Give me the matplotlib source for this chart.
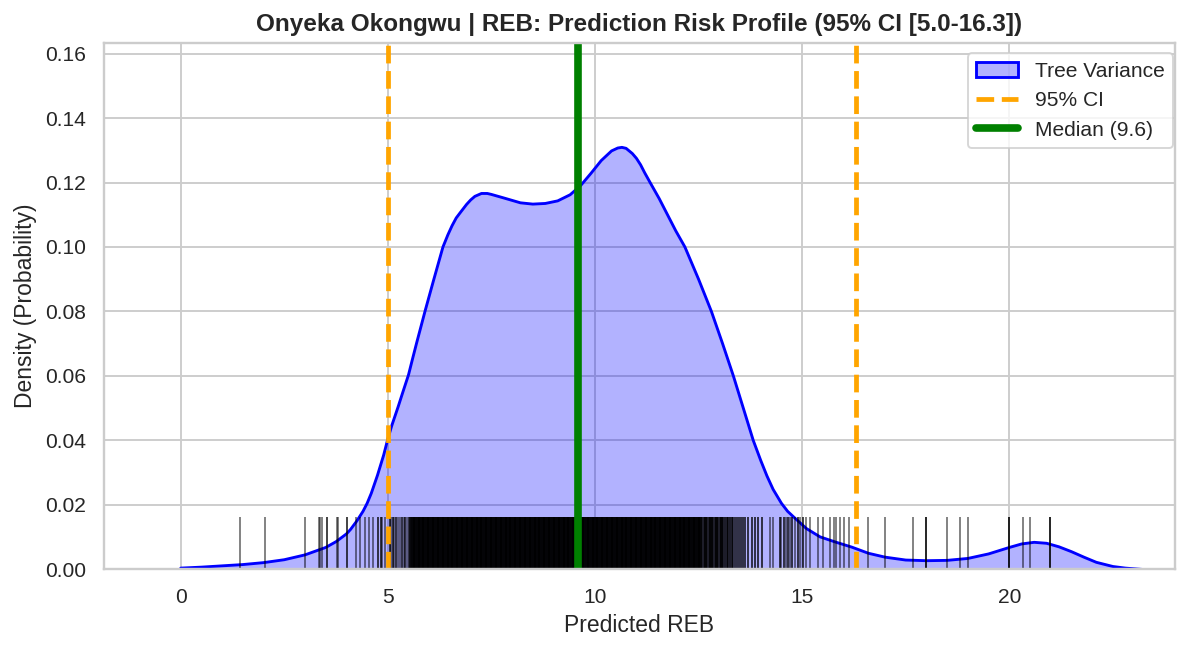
import matplotlib
matplotlib.use("Agg")
import matplotlib.pyplot as plt
from matplotlib.patches import Patch
from matplotlib.lines import Line2D
import seaborn as sns

# KDE curve of the tree predictions
kde_x = [0.0, 0.5, 1.0, 1.5, 2.0, 2.5, 3.0, 3.5, 3.75, 4.0, 4.1, 4.25, 4.4, 4.5,
         4.6, 4.75, 4.9, 5.0, 5.1, 5.25, 5.35, 5.5, 5.6, 5.7, 5.9, 6.1, 6.33,
         6.45, 6.55, 6.65, 6.75, 6.9, 7.0, 7.1, 7.26, 7.4, 7.5, 7.8, 8.2, 8.5,
         8.8, 9.1, 9.4, 9.65, 9.9, 10.15, 10.4, 10.55, 10.65, 10.75, 10.9, 11.0,
         11.1, 11.2, 11.33, 11.55, 11.75, 11.95, 12.17, 12.5, 12.81, 13.08, 13.34,
         13.58, 13.82, 14.0, 14.15, 14.3, 14.5, 14.65, 14.8, 15.1, 15.43, 15.8,
         16.2, 16.6, 17.0, 17.5, 18.0, 18.5, 19.0, 19.5, 20.0, 20.3, 20.6, 20.9,
         21.2, 21.5, 21.8, 22.1, 22.5, 22.8, 23.2]
kde_y = [0.0004, 0.0007, 0.0011, 0.0015, 0.0021, 0.0030, 0.0045, 0.0068, 0.0086,
         0.0110, 0.0124, 0.0150, 0.0180, 0.0205, 0.0236, 0.0292, 0.0355, 0.0405,
         0.0448, 0.0505, 0.0545, 0.0604, 0.0655, 0.0705, 0.0802, 0.0895, 0.1000,
         0.1038, 0.1066, 0.1090, 0.1107, 0.1132, 0.1146, 0.1157, 0.1166, 0.1166,
         0.1163, 0.1152, 0.1137, 0.1133, 0.1135, 0.1143, 0.1162, 0.1190, 0.1228,
         0.1268, 0.1298, 0.1307, 0.1309, 0.1306, 0.1290, 0.1275, 0.1255, 0.1230,
         0.1200, 0.1150, 0.1100, 0.1050, 0.1000, 0.0900, 0.0800, 0.0700, 0.0600,
         0.0500, 0.0400, 0.0338, 0.0290, 0.0248, 0.0205, 0.0180, 0.0162, 0.0127,
         0.0101, 0.0085, 0.0069, 0.0050, 0.0038, 0.0029, 0.0027, 0.0028, 0.0034,
         0.0048, 0.0068, 0.0079, 0.0084, 0.0081, 0.0070, 0.0055, 0.0038, 0.0022,
         0.0009, 0.0004, 0.0]

# rug of individual tree predictions, grouped by how many trees share a value
rug_single = [1.43, 2.03, 3.01, 3.33, 3.37, 3.40, 3.77, 3.79, 4.24, 4.34, 4.46,
              4.54, 4.64, 4.87, 4.94, 5.08, 5.16, 5.24, 5.30, 5.38, 5.46, 14.23,
              14.29, 14.50, 14.60, 14.70, 14.82, 14.95, 15.10, 15.20, 15.39, 15.50,
              15.66, 15.76, 15.82, 15.92, 16.01, 16.12, 16.60, 17.00, 17.67, 18.49,
              18.82, 19.00, 20.33, 20.49]
rug_double = [3.52, 4.01, 4.76, 4.84, 5.05, 5.12, 5.20, 5.34, 5.42, 5.50, 5.53,
              13.34, 13.38, 13.42, 13.47, 13.52, 13.58, 13.63, 13.70, 13.78, 13.85,
              13.94, 14.03, 14.47, 14.55, 14.65, 14.75, 14.90, 15.02]
rug_triple = [17.99, 19.99, 20.99,
    5.56, 5.58, 5.60, 5.62, 5.64, 5.66, 5.68, 5.70, 5.72, 5.74, 5.76, 5.78, 5.80,
    5.82, 5.84, 5.86, 5.88, 5.90, 5.92, 5.94, 5.96, 5.98,
    6.00, 6.02, 6.04, 6.06, 6.08, 6.10, 6.12, 6.14, 6.16, 6.18, 6.20, 6.22, 6.24,
    6.26, 6.28, 6.30, 6.32, 6.34, 6.36, 6.38, 6.40, 6.42, 6.44, 6.46, 6.48, 6.50,
    6.52, 6.54, 6.56, 6.58, 6.60, 6.62, 6.64, 6.66, 6.68, 6.70, 6.72, 6.74, 6.76,
    6.78, 6.80, 6.82, 6.84, 6.86, 6.88, 6.90, 6.92, 6.94, 6.96, 6.98,
    7.00, 7.02, 7.04, 7.06, 7.08, 7.10, 7.12, 7.14, 7.16, 7.18, 7.20, 7.22, 7.24,
    7.26, 7.28, 7.30, 7.32, 7.34, 7.36, 7.38, 7.40, 7.42, 7.44, 7.46, 7.48, 7.50,
    7.52, 7.54, 7.56, 7.58, 7.60, 7.62, 7.64, 7.66, 7.68, 7.70, 7.72, 7.74, 7.76,
    7.78, 7.80, 7.82, 7.84, 7.86, 7.88, 7.90, 7.92, 7.94, 7.96, 7.98,
    8.00, 8.02, 8.04, 8.06, 8.08, 8.10, 8.12, 8.14, 8.16, 8.18, 8.20, 8.22, 8.24,
    8.26, 8.28, 8.30, 8.32, 8.34, 8.36, 8.38, 8.40, 8.42, 8.44, 8.46, 8.48, 8.50,
    8.52, 8.54, 8.56, 8.58, 8.60, 8.62, 8.64, 8.66, 8.68, 8.70, 8.72, 8.74, 8.76,
    8.78, 8.80, 8.82, 8.84, 8.86, 8.88, 8.90, 8.92, 8.94, 8.96, 8.98,
    9.00, 9.02, 9.04, 9.06, 9.08, 9.10, 9.12, 9.14, 9.16, 9.18, 9.20, 9.22, 9.24,
    9.26, 9.28, 9.30, 9.32, 9.34, 9.36, 9.38, 9.40, 9.42, 9.44, 9.46, 9.48, 9.50,
    9.52, 9.54, 9.56, 9.58, 9.60, 9.62, 9.64, 9.66, 9.68, 9.70, 9.72, 9.74, 9.76,
    9.78, 9.80, 9.82, 9.84, 9.86, 9.88, 9.90, 9.92, 9.94, 9.96, 9.98,
    10.00, 10.02, 10.04, 10.06, 10.08, 10.10, 10.12, 10.14, 10.16, 10.18, 10.20,
    10.22, 10.24, 10.26, 10.28, 10.30, 10.32, 10.34, 10.36, 10.38, 10.40, 10.42,
    10.44, 10.46, 10.48, 10.50, 10.52, 10.54, 10.56, 10.58, 10.60, 10.62, 10.64,
    10.66, 10.68, 10.70, 10.72, 10.74, 10.76, 10.78, 10.80, 10.82, 10.84, 10.86,
    10.88, 10.90, 10.92, 10.94, 10.96, 10.98,
    11.00, 11.02, 11.04, 11.06, 11.08, 11.10, 11.12, 11.14, 11.16, 11.18, 11.20,
    11.22, 11.24, 11.26, 11.28, 11.30, 11.32, 11.34, 11.36, 11.38, 11.40, 11.42,
    11.44, 11.46, 11.48, 11.50, 11.52, 11.54, 11.56, 11.58, 11.60, 11.62, 11.64,
    11.66, 11.68, 11.70, 11.72, 11.74, 11.76, 11.78, 11.80, 11.82, 11.84, 11.86,
    11.88, 11.90, 11.92, 11.94, 11.96, 11.98,
    12.00, 12.02, 12.04, 12.06, 12.08, 12.10, 12.12, 12.14, 12.16, 12.18, 12.20,
    12.22, 12.24, 12.26, 12.28, 12.30, 12.32, 12.34, 12.36, 12.38, 12.40, 12.42,
    12.44, 12.46, 12.48, 12.50, 12.52, 12.54, 12.56, 12.59, 12.62, 12.65, 12.68,
    12.71, 12.74, 12.77, 12.80, 12.83, 12.86, 12.89, 12.92, 12.95, 12.98, 13.01,
    13.04, 13.07, 13.10, 13.14, 13.18, 13.22, 13.26, 13.30]

ci_low = 5.0
ci_high = 16.3
median = 9.6
player = "Onyeka Okongwu"
stat = "REB"

sns.set_theme(context="notebook", style="whitegrid")
plt.rcParams['font.family'] = ['Liberation Sans', 'DejaVu Sans']

fig = plt.figure(figsize=(12 / 1.375, 6.5 / 1.375), dpi=137.5)
ax = fig.add_axes([0.0867, 0.124, 0.8925, 0.810])

# filled density
ax.fill_between(kde_x, kde_y, 0, color='blue', alpha=0.3, linewidth=0)
ax.plot(kde_x, kde_y, color='blue', linewidth=1.5)

# rug (black, alpha 0.5 per tree -> stacked alpha for shared values)
trans = ax.get_xaxis_transform()
for vals, n in [(rug_single, 1), (rug_double, 2), (rug_triple, 3)]:
    ax.vlines(vals, 0, 0.1, transform=trans, color='black',
              alpha=1 - 0.5 ** n, linewidth=1)

# interval and median
ax.axvline(ci_low, color='orange', linestyle='--', linewidth=2.5)
ax.axvline(ci_high, color='orange', linestyle='--', linewidth=2.5)
ax.axvline(median, color='green', linewidth=4)

ax.set_xlim(-1.85, 24.0)
ax.set_ylim(0, 0.1633)
ax.set_xticks([0, 5, 10, 15, 20])

ax.set_title(f"{player} | {stat}: Prediction Risk Profile "
             f"(95% CI [{ci_low:.1f}-{ci_high:.1f}])", fontweight='bold',
             fontsize=12.7)
ax.set_xlabel(f"Predicted {stat}")
ax.set_ylabel("Density (Probability)")

handles = [Patch(facecolor=(0, 0, 1, 0.3), edgecolor='blue', linewidth=1.5),
           Line2D([], [], color='orange', linestyle='--', linewidth=2.5),
           Line2D([], [], color='green', linewidth=4)]
ax.legend(handles, ["Tree Variance", "95% CI", f"Median ({median:.1f})"],
          loc='upper right', bbox_to_anchor=(1.008, 1.0))

fig.savefig("out.png", dpi=137.5)
